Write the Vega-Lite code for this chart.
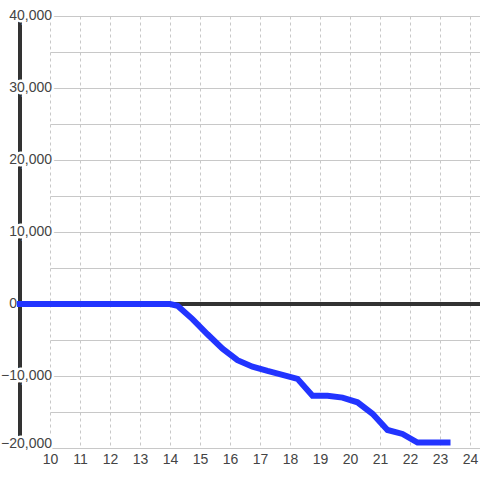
{
  "$schema": "https://vega.github.io/schema/vega-lite/v6.json",
  "width": 430,
  "height": 432,
  "autosize": {"type": "none"},
  "padding": {"left": 50, "top": 16, "right": 0, "bottom": 32},
  "background": "white",
  "config": {
    "view": {"stroke": null},
    "font": "Liberation Sans",
    "axis": {"labelOverlap": false, "labelFlush": false},
    "axisX": {
      "domain": false, "ticks": false, "tickSize": 0, "labelPadding": 4,
      "labelFontSize": 14, "labelColor": "#444444",
      "grid": true, "gridColor": "#c8c8c8", "gridDash": [3, 3], "gridWidth": 1, "title": null
    },
    "axisY": {
      "domain": false, "ticks": false, "labels": false,
      "grid": true, "gridColor": "#c8c8c8", "gridWidth": 1, "title": null
    }
  },
  "datasets": {
    "series": [
      {"t": 9, "v": 0},
      {"t": 14, "v": 0},
      {"t": 14.25, "v": -250},
      {"t": 14.75, "v": -2100},
      {"t": 15.25, "v": -4200},
      {"t": 15.75, "v": -6200},
      {"t": 16.25, "v": -7800},
      {"t": 16.75, "v": -8700},
      {"t": 17.25, "v": -9300},
      {"t": 17.75, "v": -9850},
      {"t": 18.25, "v": -10400},
      {"t": 18.75, "v": -12750},
      {"t": 19.25, "v": -12750},
      {"t": 19.75, "v": -13000},
      {"t": 20.25, "v": -13650},
      {"t": 20.75, "v": -15250},
      {"t": 21.25, "v": -17500},
      {"t": 21.75, "v": -18050},
      {"t": 22.25, "v": -19250},
      {"t": 23.25, "v": -19250}
    ],
    "labels": [
      {"v": 40000},
      {"v": 30000},
      {"v": 20000},
      {"v": 10000},
      {"v": 0},
      {"v": -10000},
      {"v": -20000}
    ]
  },
  "layer": [
    {
      "data": {"name": "series"},
      "mark": {"type": "rule", "color": "#333333", "strokeWidth": 3},
      "encoding": {
        "x": {
          "datum": 9,
          "type": "quantitative",
          "scale": {"domain": [10, 24.333], "nice": false, "zero": false},
          "axis": {"values": [10, 11, 12, 13, 14, 15, 16, 17, 18, 19, 20, 21, 22, 23, 24], "labelExpr": "format(datum.value, 'd')"}
        },
        "y": {
          "datum": 40000,
          "type": "quantitative",
          "scale": {"domain": [-20000, 40000], "nice": false, "zero": false},
          "axis": {"values": [-20000, -15000, -10000, -5000, 0, 5000, 10000, 15000, 20000, 25000, 30000, 35000, 40000]}
        },
        "y2": {"datum": -20000}
      }
    },
    {
      "data": {"name": "series"},
      "mark": {"type": "rule", "color": "#333333", "strokeWidth": 3},
      "encoding": {
        "x": {
          "datum": 9,
          "type": "quantitative",
          "axis": {"values": [10, 11, 12, 13, 14, 15, 16, 17, 18, 19, 20, 21, 22, 23, 24], "labelExpr": "format(datum.value, 'd')"}
        },
        "x2": {"datum": 24.333},
        "y": {
          "datum": 0,
          "type": "quantitative",
          "axis": {"values": [-20000, -15000, -10000, -5000, 0, 5000, 10000, 15000, 20000, 25000, 30000, 35000, 40000]}
        }
      }
    },
    {
      "data": {"name": "labels"},
      "transform": [{"filter": "datum.v !== 0"}],
      "mark": {
        "type": "text",
        "align": "right",
        "baseline": {"expr": "datum.v === -20000 ? 'alphabetic' : 'middle'"},
        "fontSize": 14,
        "fill": "white",
        "stroke": "white",
        "strokeWidth": 5
      },
      "encoding": {
        "x": {
          "datum": 10.067,
          "type": "quantitative",
          "axis": {"values": [10, 11, 12, 13, 14, 15, 16, 17, 18, 19, 20, 21, 22, 23, 24], "labelExpr": "format(datum.value, 'd')"}
        },
        "y": {
          "field": "v",
          "type": "quantitative",
          "axis": {"values": [-20000, -15000, -10000, -5000, 0, 5000, 10000, 15000, 20000, 25000, 30000, 35000, 40000]}
        },
        "text": {"field": "v", "type": "quantitative", "format": ","}
      }
    },
    {
      "data": {"name": "series"},
      "mark": {"type": "line", "color": "#2234ff", "strokeWidth": 6, "strokeCap": "square"},
      "encoding": {
        "x": {
          "field": "t",
          "type": "quantitative",
          "axis": {"values": [10, 11, 12, 13, 14, 15, 16, 17, 18, 19, 20, 21, 22, 23, 24], "labelExpr": "format(datum.value, 'd')"}
        },
        "y": {
          "field": "v",
          "type": "quantitative",
          "axis": {"values": [-20000, -15000, -10000, -5000, 0, 5000, 10000, 15000, 20000, 25000, 30000, 35000, 40000]}
        }
      }
    },
    {
      "data": {"name": "labels"},
      "mark": {
        "type": "text",
        "align": "right",
        "baseline": {"expr": "datum.v === -20000 ? 'alphabetic' : 'middle'"},
        "dx": {"expr": "datum.v === 0 ? -35 : 0"},
        "fontSize": 14,
        "fill": "#444444"
      },
      "encoding": {
        "x": {
          "datum": 10.067,
          "type": "quantitative",
          "axis": {"values": [10, 11, 12, 13, 14, 15, 16, 17, 18, 19, 20, 21, 22, 23, 24], "labelExpr": "format(datum.value, 'd')"}
        },
        "y": {
          "field": "v",
          "type": "quantitative",
          "axis": {"values": [-20000, -15000, -10000, -5000, 0, 5000, 10000, 15000, 20000, 25000, 30000, 35000, 40000]}
        },
        "text": {"field": "v", "type": "quantitative", "format": ","}
      }
    }
  ]
}
